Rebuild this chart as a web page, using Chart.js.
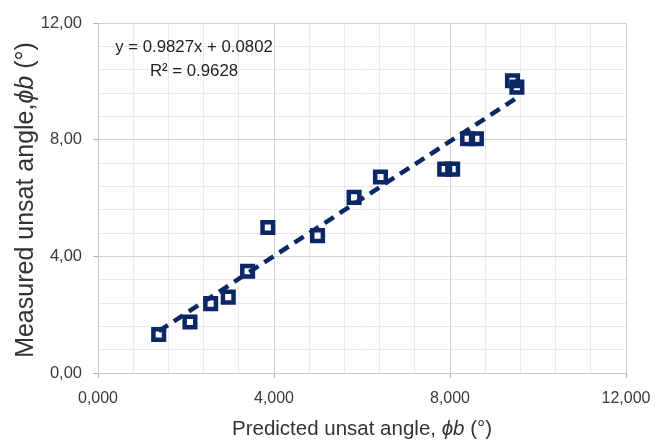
<!DOCTYPE html>
<html>
<head>
<meta charset="utf-8">
<script src="https://cdn.jsdelivr.net/npm/chart.js@4/dist/chart.umd.min.js"></script>
<style>
html,body{margin:0;padding:0;background:#fff;}
#wrap{width:667px;height:443px;position:relative;}
</style>
</head>
<body>
<div id="wrap"><canvas id="c" width="667" height="443"></canvas></div>
<script>
// Data
const predicted = [1.38, 2.09, 2.56, 2.96, 3.40, 3.86, 4.99, 5.82, 6.42, 7.88, 8.06, 8.40, 8.60, 9.42, 9.52];
const measured  = [1.32, 1.75, 2.38, 2.60, 3.49, 4.99, 4.71, 6.02, 6.72, 6.99, 6.99, 8.03, 8.03, 10.02, 9.80];
const trendSlope = 0.9827;
const trendIntercept = 0.0802;
const trendLabel = "y = 0.9827x + 0.0802";
const r2Label = "R\u00b2 = 0.9628";
const xTitleParts = [["Predicted unsat angle, ", ""], ["\u03d5b", "italic "], [" (\u00b0)", ""]];
const yTitleParts = [["Measured unsat angle,", ""], ["\u03d5b", "italic "], [" (\u00b0)", ""]];
const axisMin = 0, axisMax = 12, gridStep = 0.8, labelEvery = 5;

const navy = '#0c2765';
const pts = predicted.map((x, i) => ({x: x, y: measured[i]}));
const xLo = Math.min(...predicted), xHi = Math.max(...predicted);
const trend = [xLo, xHi].map(x => ({x: x, y: trendSlope * x + trendIntercept}));

const FONT = '"Liberation Sans", Arial, sans-serif';

function drawParts(ctx, parts, size, cx, cy) {
  let total = 0;
  parts.forEach(p => { ctx.font = p[1] + size + 'px ' + FONT; total += ctx.measureText(p[0]).width; });
  let x = cx - total / 2;
  parts.forEach(p => {
    ctx.font = p[1] + size + 'px ' + FONT;
    ctx.fillText(p[0], x, cy);
    x += ctx.measureText(p[0]).width;
  });
}

const textPlugin = {
  id: 'texts',
  afterDraw(chart) {
    const ctx = chart.ctx;
    ctx.save();
    ctx.fillStyle = '#333333';
    ctx.textBaseline = 'middle';
    ctx.textAlign = 'left';
    drawParts(ctx, xTitleParts, 20.5, 362, 429);
    ctx.save();
    ctx.translate(26, 200);
    ctx.rotate(-Math.PI / 2);
    drawParts(ctx, yTitleParts, 25, 0, 0);
    ctx.restore();
    ctx.fillStyle = '#222222';
    ctx.textAlign = 'center';
    ctx.font = '16.8px ' + FONT;
    ctx.fillText(trendLabel, 194, 47);
    ctx.fillText(r2Label, 194, 71);
    ctx.restore();
  }
};

function gridColor(ctx) {
  return (ctx.index % labelEvery === 0) ? '#d2d2d2' : '#e9e9e9';
}
function tickColor(ctx) {
  return (ctx.index % labelEvery === 0) ? '#b0b0b0' : 'rgba(0,0,0,0)';
}

new Chart(document.getElementById('c'), {
  type: 'scatter',
  data: {
    datasets: [
      {
        label: 'trend',
        type: 'line',
        data: trend,
        borderColor: navy,
        borderWidth: 4.5,
        borderDash: [11, 7],
        pointRadius: 0,
        fill: false,
        order: 2
      },
      {
        label: 'data',
        data: pts,
        pointStyle: 'rect',
        pointRadius: 7.5,
        pointHoverRadius: 7.5,
        pointBorderWidth: 4.5,
        borderColor: navy,
        backgroundColor: 'rgba(255,255,255,0)',
        order: 1
      }
    ]
  },
  plugins: [textPlugin],
  options: {
    responsive: false,
    animation: false,
    layout: {padding: {left: 0, right: 41, top: 23, bottom: 0}},
    plugins: {legend: {display: false}, tooltip: {enabled: false}},
    scales: {
      x: {
        type: 'linear',
        min: axisMin, max: axisMax,
        afterFit(s) { s.height = 70; },
        border: {color: '#c8c8c8', width: 1},
        grid: {color: gridColor, tickColor: tickColor, tickLength: 5, drawTicks: true},
        ticks: {
          stepSize: gridStep,
          autoSkip: false,
          maxRotation: 0,
          padding: 11,
          color: '#3a3a3a',
          font: {family: FONT, size: 16},
          callback(v, i) { return i % labelEvery === 0 ? v.toFixed(3).replace('.', ',') : ''; }
        }
      },
      y: {
        type: 'linear',
        min: axisMin, max: axisMax,
        afterFit(s) { s.width = 98; },
        border: {color: '#c8c8c8', width: 1},
        grid: {color: gridColor, tickColor: tickColor, tickLength: 5, drawTicks: true},
        ticks: {
          stepSize: gridStep,
          autoSkip: false,
          padding: 11,
          color: '#3a3a3a',
          font: {family: FONT, size: 16.5},
          callback(v, i) { return i % labelEvery === 0 ? v.toFixed(2).replace('.', ',') : ''; }
        }
      }
    }
  }
});
</script>
</body>
</html>
